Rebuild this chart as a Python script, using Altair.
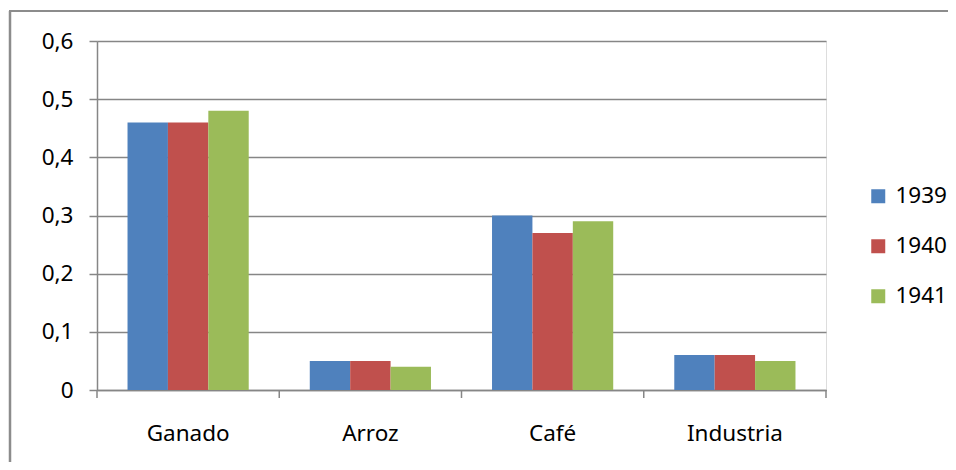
import altair as alt
import pandas as pd

categories = ["Ganado", "Arroz", "Café", "Industria"]
years = ["1939", "1940", "1941"]
v1939 = [0.46, 0.05, 0.30, 0.06]
v1940 = [0.46, 0.05, 0.27, 0.06]
v1941 = [0.48, 0.04, 0.29, 0.05]
colors = ["#4F81BD", "#C0504D", "#9BBB59"]
y_ticks = [0, 0.1, 0.2, 0.3, 0.4, 0.5, 0.6]
boundaries = [0, 1, 2, 3, 4]

rows = []
for yr, vals in zip(years, [v1939, v1940, v1941]):
    for c, v in zip(categories, vals):
        rows.append({"cat": c, "year": yr, "value": v})
df = pd.DataFrame(rows)

W, H = 729, 349
GRAY = "#868686"
FONT = "Noto Sans"

bars = alt.Chart(df).mark_bar().encode(
    x=alt.X("cat:N", sort=categories, title=None,
            scale=alt.Scale(paddingInner=0.335, paddingOuter=0.1675),
            axis=alt.Axis(ticks=False, labelAngle=0, labelPadding=32,
                          domainColor=GRAY, domainWidth=1.5,
                          labelFontSize=22.5, labelColor="#000", labelFont=FONT)),
    xOffset=alt.XOffset("year:N", sort=years,
                        scale=alt.Scale(paddingInner=0, paddingOuter=0)),
    y=alt.Y("value:Q", title=None,
            scale=alt.Scale(domain=[0, 0.6], nice=False, zero=True),
            axis=alt.Axis(values=y_ticks, grid=True, gridColor=GRAY, gridWidth=1.5,
                          tickSize=8, tickColor=GRAY, tickWidth=1.5,
                          domainColor=GRAY, domainWidth=1.5, labelPadding=16,
                          labelFontSize=22.5, labelColor="#000", labelFont=FONT,
                          labelExpr="datum.value == 0 ? '0' : replace(format(datum.value, '.1f'), '.', ',')")),
    color=alt.Color("year:N", sort=years,
                    scale=alt.Scale(domain=years, range=colors),
                    legend=alt.Legend(title=None, orient="none", legendX=770, legendY=144,
                                      padding=0, symbolType="square", symbolSize=196,
                                      symbolStrokeWidth=0, labelFontSize=22.5,
                                      labelFont=FONT, labelColor="#000",
                                      labelOffset=6, rowPadding=27)),
)

tick_df = pd.DataFrame({"b": boundaries})
ticks = alt.Chart(tick_df).mark_rule(color=GRAY, strokeWidth=1.5).encode(
    x=alt.X("b:Q", scale=alt.Scale(domain=[0, 4], nice=False, zero=False), axis=None),
    y=alt.value(H),
    y2=alt.value(H + 8),
)

frame_df = pd.DataFrame({"k": [0]})
frame_left = alt.Chart(frame_df).mark_rule(color="#8c8c8c", strokeWidth=2.5).encode(
    x=alt.value(-87), y=alt.value(-30), y2=alt.value(H + 120)
)
frame_top = alt.Chart(frame_df).mark_rule(color="#8c8c8c", strokeWidth=2).encode(
    x=alt.value(-88), x2=alt.value(W + 200), y=alt.value(-30)
)

chart = alt.layer(bars, ticks, frame_left, frame_top).resolve_scale(
    x="independent"
).properties(
    width=W, height=H,
    autosize=alt.AutoSizeParams(type="none"),
    padding={"left": 89, "top": 33, "right": 122, "bottom": 72},
).configure_view(stroke=None).configure(font=FONT)

chart.save("out.html", embed_options={"renderer": "svg", "actions": False})
